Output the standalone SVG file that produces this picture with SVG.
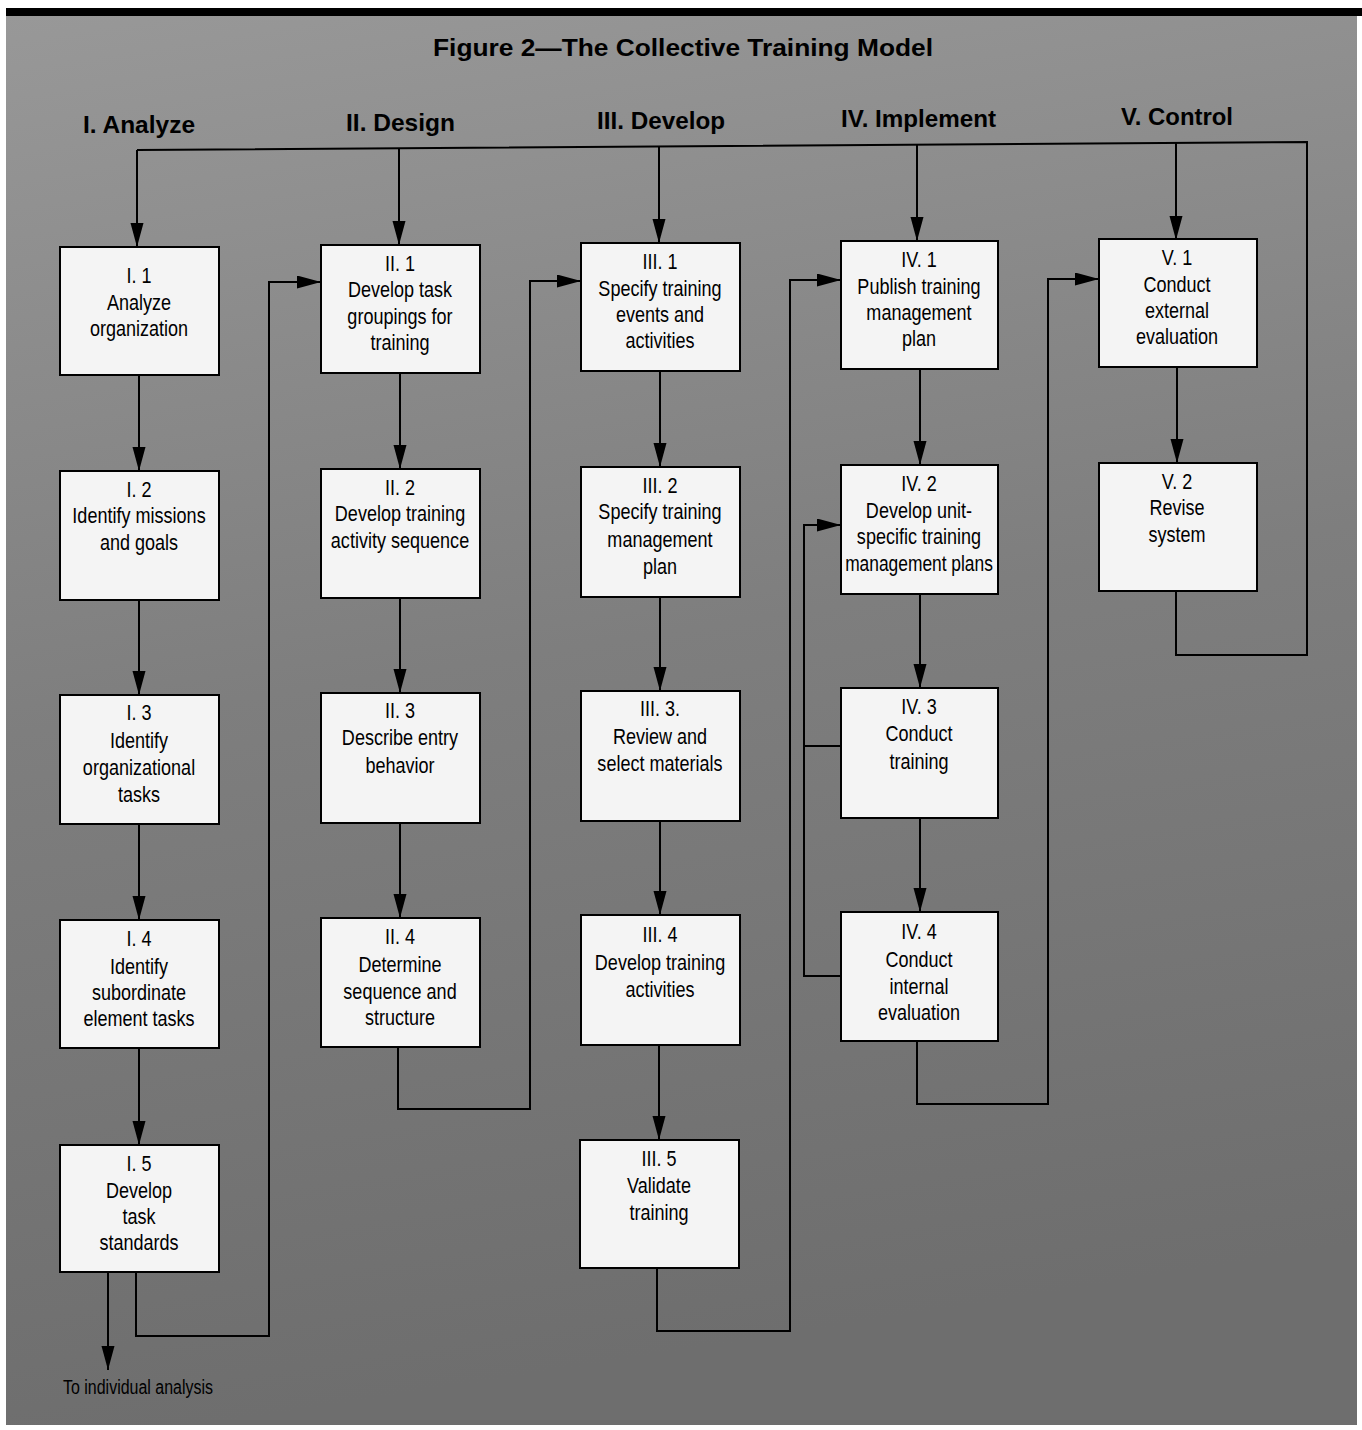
<svg xmlns="http://www.w3.org/2000/svg" width="1362" height="1430" viewBox="0 0 1362 1430">
<defs>
<linearGradient id="bg" x1="0" y1="0" x2="0.15" y2="1">
<stop offset="0" stop-color="#989898"/>
<stop offset="0.5" stop-color="#7e7e7e"/>
<stop offset="1" stop-color="#6e6e6e"/>
</linearGradient>
<marker id="ah" markerUnits="userSpaceOnUse" markerWidth="26" markerHeight="14" refX="24" refY="6.5" orient="auto">
<path d="M0,0 L24,6.5 L0,13 z" fill="#000"/>
</marker>
<style>
.box{fill:#f4f4f4;stroke:#000;stroke-width:2}
.bt{font-family:"Liberation Sans",Arial,sans-serif;font-size:22px;fill:#000;text-anchor:middle}
.hd{font-family:"Liberation Sans",Arial,sans-serif;font-weight:bold;font-size:24px;fill:#000}
.ln{fill:none;stroke:#000;stroke-width:2}
.ar{fill:none;stroke:#000;stroke-width:2;marker-end:url(#ah)}
</style>
</defs>
<rect x="0" y="0" width="1362" height="1430" fill="#fff"/>
<rect x="6" y="14" width="1351" height="1411" fill="url(#bg)"/>
<rect x="6" y="8" width="1356" height="8" fill="#000"/>
<g id="title">
<text x="433" y="56" class="hd" font-size="28" textLength="500" lengthAdjust="spacingAndGlyphs">Figure 2—The Collective Training Model</text>
</g>
<g id="headers">
<text x="83" y="133" class="hd" textLength="112" lengthAdjust="spacingAndGlyphs">I. Analyze</text>
<text x="346" y="131" class="hd" textLength="109" lengthAdjust="spacingAndGlyphs">II. Design</text>
<text x="597" y="129" class="hd" textLength="128" lengthAdjust="spacingAndGlyphs">III. Develop</text>
<text x="841" y="127" class="hd" textLength="155" lengthAdjust="spacingAndGlyphs">IV. Implement</text>
<text x="1121" y="125" class="hd" textLength="112" lengthAdjust="spacingAndGlyphs">V. Control</text>
</g>
<g id="connectors">
<polyline class="ln" points="1176,591 1176,655 1307,655 1307,142 137,150"/>
<line class="ar" x1="137" y1="150" x2="137" y2="247"/>
<line class="ar" x1="399" y1="148" x2="399" y2="245"/>
<line class="ar" x1="659" y1="146" x2="659" y2="243"/>
<line class="ar" x1="917" y1="145" x2="917" y2="241"/>
<line class="ar" x1="1176" y1="143" x2="1176" y2="240"/>
<line class="ar" x1="139" y1="375" x2="139" y2="471"/>
<line class="ar" x1="139" y1="600" x2="139" y2="695"/>
<line class="ar" x1="139" y1="824" x2="139" y2="920"/>
<line class="ar" x1="139" y1="1048" x2="139" y2="1145"/>
<line class="ar" x1="400" y1="373" x2="400" y2="469"/>
<line class="ar" x1="400" y1="598" x2="400" y2="693"/>
<line class="ar" x1="400" y1="823" x2="400" y2="918"/>
<line class="ar" x1="660" y1="371" x2="660" y2="467"/>
<line class="ar" x1="660" y1="597" x2="660" y2="691"/>
<line class="ar" x1="660" y1="821" x2="660" y2="915"/>
<line class="ar" x1="659" y1="1045" x2="659" y2="1140"/>
<line class="ar" x1="920" y1="369" x2="920" y2="465"/>
<line class="ar" x1="920" y1="594" x2="920" y2="688"/>
<line class="ar" x1="920" y1="818" x2="920" y2="912"/>
<line class="ar" x1="1177" y1="367" x2="1177" y2="463"/>
<line class="ar" x1="108" y1="1272" x2="108" y2="1370"/>
<polyline class="ar" points="136,1272 136,1336 269,1336 269,282 321,282"/>
<polyline class="ar" points="398,1047 398,1109 530,1109 530,281 581,281"/>
<polyline class="ar" points="657,1268 657,1331 790,1331 790,280 841,280"/>
<polyline class="ar" points="917,1041 917,1104 1048,1104 1048,279 1099,279"/>
<polyline class="ar" points="841,976 804,976 804,525 841,525"/>
<line class="ln" x1="841" y1="746" x2="804" y2="746"/>
</g>
<g id="I1"><rect class="box" x="60" y="247" width="159" height="128"/><text class="bt" transform="translate(139,283) scale(0.82,1)">I. 1</text><text class="bt" transform="translate(139,310) scale(0.82,1)">Analyze</text><text class="bt" transform="translate(139,336) scale(0.82,1)">organization</text></g>
<g id="I2"><rect class="box" x="60" y="471" width="159" height="129"/><text class="bt" transform="translate(139,497) scale(0.82,1)">I. 2</text><text class="bt" transform="translate(139,523) scale(0.82,1)">Identify missions</text><text class="bt" transform="translate(139,550) scale(0.82,1)">and goals</text></g>
<g id="I3"><rect class="box" x="60" y="695" width="159" height="129"/><text class="bt" transform="translate(139,720) scale(0.82,1)">I. 3</text><text class="bt" transform="translate(139,748) scale(0.82,1)">Identify</text><text class="bt" transform="translate(139,775) scale(0.82,1)">organizational</text><text class="bt" transform="translate(139,802) scale(0.82,1)">tasks</text></g>
<g id="I4"><rect class="box" x="60" y="920" width="159" height="128"/><text class="bt" transform="translate(139,946) scale(0.82,1)">I. 4</text><text class="bt" transform="translate(139,974) scale(0.82,1)">Identify</text><text class="bt" transform="translate(139,1000) scale(0.82,1)">subordinate</text><text class="bt" transform="translate(139,1026) scale(0.82,1)">element tasks</text></g>
<g id="I5"><rect class="box" x="60" y="1145" width="159" height="127"/><text class="bt" transform="translate(139,1171) scale(0.82,1)">I. 5</text><text class="bt" transform="translate(139,1198) scale(0.82,1)">Develop</text><text class="bt" transform="translate(139,1224) scale(0.82,1)">task</text><text class="bt" transform="translate(139,1250) scale(0.82,1)">standards</text></g>
<g id="II1"><rect class="box" x="321" y="245" width="159" height="128"/><text class="bt" transform="translate(400,271) scale(0.82,1)">II. 1</text><text class="bt" transform="translate(400,297) scale(0.82,1)">Develop task</text><text class="bt" transform="translate(400,324) scale(0.82,1)">groupings for</text><text class="bt" transform="translate(400,350) scale(0.82,1)">training</text></g>
<g id="II2"><rect class="box" x="321" y="469" width="159" height="129"/><text class="bt" transform="translate(400,495) scale(0.82,1)">II. 2</text><text class="bt" transform="translate(400,521) scale(0.82,1)">Develop training</text><text class="bt" transform="translate(400,548) scale(0.82,1)">activity sequence</text></g>
<g id="II3"><rect class="box" x="321" y="693" width="159" height="130"/><text class="bt" transform="translate(400,718) scale(0.82,1)">II. 3</text><text class="bt" transform="translate(400,745) scale(0.82,1)">Describe entry</text><text class="bt" transform="translate(400,773) scale(0.82,1)">behavior</text></g>
<g id="II4"><rect class="box" x="321" y="918" width="159" height="129"/><text class="bt" transform="translate(400,944) scale(0.82,1)">II. 4</text><text class="bt" transform="translate(400,972) scale(0.82,1)">Determine</text><text class="bt" transform="translate(400,999) scale(0.82,1)">sequence and</text><text class="bt" transform="translate(400,1025) scale(0.82,1)">structure</text></g>
<g id="III1"><rect class="box" x="581" y="243" width="159" height="128"/><text class="bt" transform="translate(660,269) scale(0.82,1)">III. 1</text><text class="bt" transform="translate(660,296) scale(0.82,1)">Specify training</text><text class="bt" transform="translate(660,322) scale(0.82,1)">events and</text><text class="bt" transform="translate(660,348) scale(0.82,1)">activities</text></g>
<g id="III2"><rect class="box" x="581" y="467" width="159" height="130"/><text class="bt" transform="translate(660,493) scale(0.82,1)">III. 2</text><text class="bt" transform="translate(660,519) scale(0.82,1)">Specify training</text><text class="bt" transform="translate(660,547) scale(0.82,1)">management</text><text class="bt" transform="translate(660,574) scale(0.82,1)">plan</text></g>
<g id="III3"><rect class="box" x="581" y="691" width="159" height="130"/><text class="bt" transform="translate(660,716) scale(0.82,1)">III. 3.</text><text class="bt" transform="translate(660,744) scale(0.82,1)">Review and</text><text class="bt" transform="translate(660,771) scale(0.82,1)">select materials</text></g>
<g id="III4"><rect class="box" x="581" y="915" width="159" height="130"/><text class="bt" transform="translate(660,942) scale(0.82,1)">III. 4</text><text class="bt" transform="translate(660,970) scale(0.82,1)">Develop training</text><text class="bt" transform="translate(660,997) scale(0.82,1)">activities</text></g>
<g id="III5"><rect class="box" x="580" y="1140" width="159" height="128"/><text class="bt" transform="translate(659,1166) scale(0.82,1)">III. 5</text><text class="bt" transform="translate(659,1193) scale(0.82,1)">Validate</text><text class="bt" transform="translate(659,1220) scale(0.82,1)">training</text></g>
<g id="IV1"><rect class="box" x="841" y="241" width="157" height="128"/><text class="bt" transform="translate(919,267) scale(0.82,1)">IV. 1</text><text class="bt" transform="translate(919,294) scale(0.82,1)">Publish training</text><text class="bt" transform="translate(919,320) scale(0.82,1)">management</text><text class="bt" transform="translate(919,346) scale(0.82,1)">plan</text></g>
<g id="IV2"><rect class="box" x="841" y="465" width="157" height="129"/><text class="bt" transform="translate(919,491) scale(0.82,1)">IV. 2</text><text class="bt" transform="translate(919,518) scale(0.82,1)">Develop unit-</text><text class="bt" transform="translate(919,544) scale(0.82,1)">specific training</text><text class="bt" transform="translate(919,571) scale(0.79,1)">management plans</text></g>
<g id="IV3"><rect class="box" x="841" y="688" width="157" height="130"/><text class="bt" transform="translate(919,714) scale(0.82,1)">IV. 3</text><text class="bt" transform="translate(919,741) scale(0.82,1)">Conduct</text><text class="bt" transform="translate(919,769) scale(0.82,1)">training</text></g>
<g id="IV4"><rect class="box" x="841" y="912" width="157" height="129"/><text class="bt" transform="translate(919,939) scale(0.82,1)">IV. 4</text><text class="bt" transform="translate(919,967) scale(0.82,1)">Conduct</text><text class="bt" transform="translate(919,994) scale(0.82,1)">internal</text><text class="bt" transform="translate(919,1020) scale(0.82,1)">evaluation</text></g>
<g id="V1"><rect class="box" x="1099" y="239" width="158" height="128"/><text class="bt" transform="translate(1177,265) scale(0.82,1)">V. 1</text><text class="bt" transform="translate(1177,292) scale(0.82,1)">Conduct</text><text class="bt" transform="translate(1177,318) scale(0.82,1)">external</text><text class="bt" transform="translate(1177,344) scale(0.82,1)">evaluation</text></g>
<g id="V2"><rect class="box" x="1099" y="463" width="158" height="128"/><text class="bt" transform="translate(1177,489) scale(0.82,1)">V. 2</text><text class="bt" transform="translate(1177,515) scale(0.82,1)">Revise</text><text class="bt" transform="translate(1177,542) scale(0.82,1)">system</text></g>
<g id="note"><text x="63" y="1394" font-family="Liberation Sans, Arial, sans-serif" font-size="20" textLength="150" lengthAdjust="spacingAndGlyphs">To individual analysis</text></g>
</svg>
